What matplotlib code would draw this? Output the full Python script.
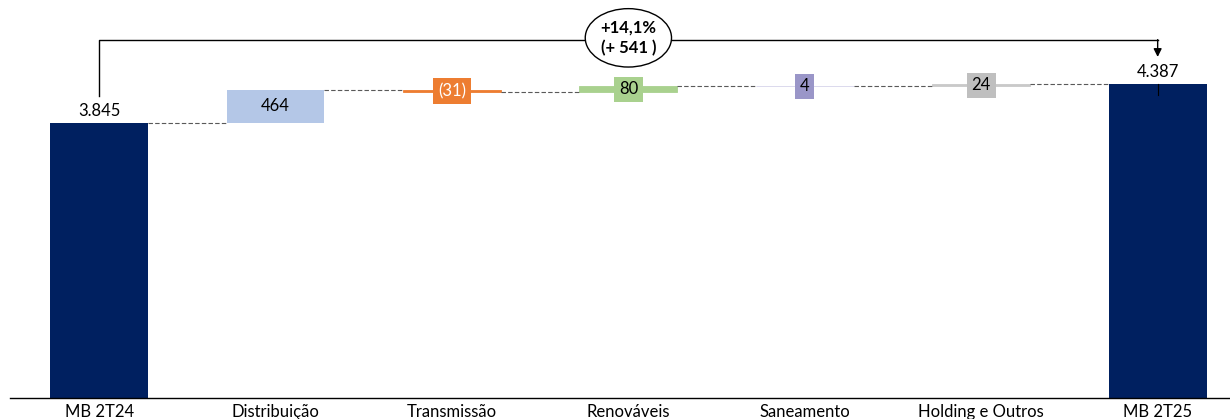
import numpy as np
from matplotlib import pyplot as plt

plt.rcParams['font.family'] = ['Lato', 'DejaVu Sans']

categories = ['MB 2T24', 'Distribuição', 'Transmissão', 'Renováveis',
              'Saneamento', 'Holding e Outros', 'MB 2T25']
values = [3845, 464, -31, 80, 4, 24, 4387]
labels = ['3.845', '464', '(31)', '80', '4', '24', '4.387']
bar_colors = ['#002060', '#B4C7E7', '#ED7D31', '#A9D18E', '#D6D3EA', '#C9C9C9', '#002060']
box_colors = [None, None, '#ED7D31', '#A9D18E', '#9A96C8', '#BFBFBF', None]
text_colors = ['black', 'black', 'white', 'black', 'black', 'black', 'black']
growth_text = '+14,1%\n(+ 541 )'

fig = plt.figure(figsize=(12.3, 4.19), dpi=100)
ax = fig.add_axes([10 / 1230, 21.5 / 419, 1220 / 1230, 397.5 / 419])

x = np.arange(len(categories))
bottoms = []
heights = []
level = 0
for i, v in enumerate(values):
    if i == 0 or i == len(values) - 1:
        bottoms.append(0)
        heights.append(v)
        level = v
    else:
        bottoms.append(level if v >= 0 else level + v)
        heights.append(abs(v))
        level += v

w = 0.555
for i in range(len(values)):
    small = box_colors[i] is not None
    ax.bar(x[i], heights[i], w, bottom=bottoms[i], color=bar_colors[i],
           edgecolor=bar_colors[i] if small else 'none', linewidth=0.6 if small else 0)

# dashed connectors between bars
level = 0
for i in range(len(values) - 1):
    level = values[0] if i == 0 else level + values[i]
    ax.plot([x[i] + w / 2, x[i + 1] - w / 2], [level, level], ls=(0, (4, 2)),
            color='#595959', lw=0.8)

# value labels
for i in range(len(values)):
    top = bottoms[i] + heights[i]
    if i == 0 or i == len(values) - 1:
        ax.text(x[i], top + 60, labels[i], ha='center', va='bottom', fontsize=12)
    elif box_colors[i] is None:
        ax.text(x[i], bottoms[i] + heights[i] / 2, labels[i], ha='center', va='center',
                fontsize=12)
    else:
        ax.text(x[i], bottoms[i] + heights[i] / 2, labels[i], ha='center', va='center',
                fontsize=12, color=text_colors[i],
                bbox=dict(boxstyle='square,pad=0.28', fc=box_colors[i], ec='none'))

# growth bracket
y_br = 5008
ax.plot([x[0], x[0], x[-1]], [4223, y_br, y_br], color='black', lw=1)
ax.annotate('', xy=(x[-1], 4770), xytext=(x[-1], y_br + 5),
            arrowprops=dict(arrowstyle='-|>', color='black', lw=1, mutation_scale=12,
                            shrinkA=0, shrinkB=0))
ax.plot([x[-1], x[-1]], [4387, 4240], color='black', lw=0.8)
ax.text(x[3], y_br + 30, growth_text, ha='center', va='center', fontsize=12,
        fontweight='bold', linespacing=1.3,
        bbox=dict(boxstyle='ellipse,pad=0.15', fc='white', ec='black', lw=1))

ax.set_xlim(-0.505, 6.41)
ax.set_ylim(0, 5568)
ax.set_xticks(x)
ax.set_xticklabels(categories, fontsize=12)
ax.tick_params(axis='x', length=0, pad=5)
ax.set_yticks([])
for s in ['top', 'left', 'right']:
    ax.spines[s].set_visible(False)
ax.spines['bottom'].set_linewidth(1)

plt.savefig('out.png', dpi=100)
